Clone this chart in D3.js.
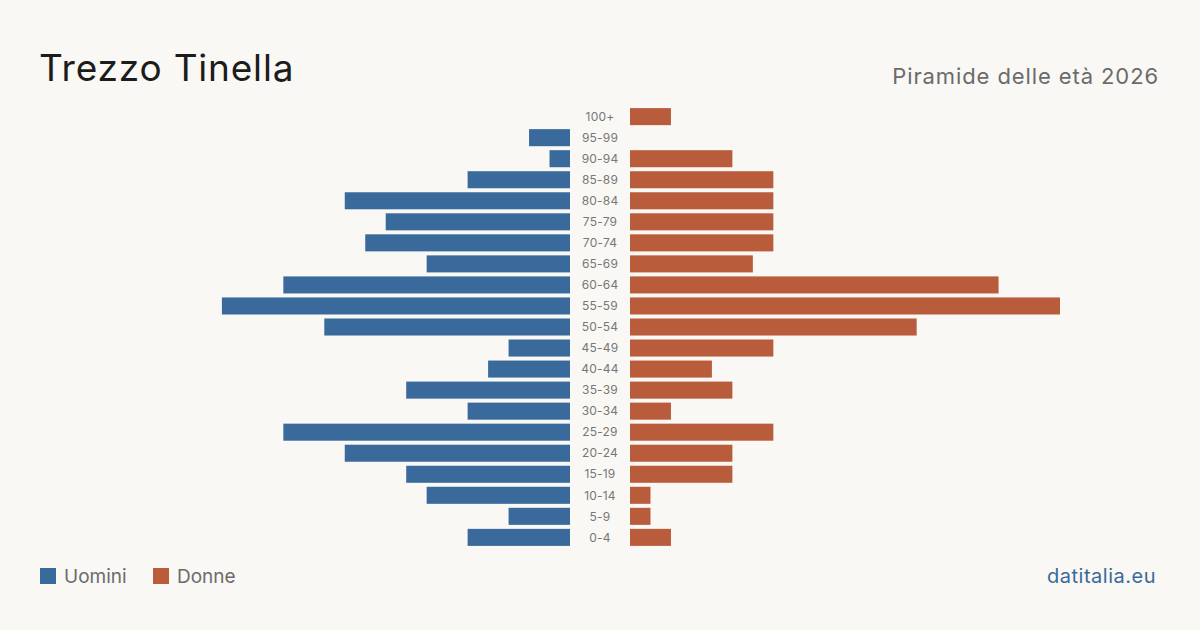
<!DOCTYPE html>
<html><head><meta charset="utf-8">
<script src="https://cdn.jsdelivr.net/npm/d3@7"></script>
<style>
html,body{margin:0;padding:0;background:#f9f8f4;}
svg{display:block;font-family:Inter,"Noto Sans",sans-serif;}
</style></head>
<body>
<svg id="c" width="1200" height="630"></svg>
<script>
const ageGroups = ["100+","95-99","90-94","85-89","80-84","75-79","70-74","65-69","60-64","55-59","50-54","45-49","40-44","35-39","30-34","25-29","20-24","15-19","10-14","5-9","0-4"];
const men   = [0,2,1,5,11,9,10,7,14,17,12,3,4,8,5,14,11,8,7,3,5];
const women = [2,0,5,7,7,7,7,6,18,21,14,7,4,5,2,7,5,5,1,1,2];
const seriesNames = ["Uomini","Donne"];
const colors = ["#3a6a9b","#b95c3c"];

const svg = d3.select("#c");
svg.append("rect").attr("width",1200).attr("height",630).attr("fill","#f9f8f4");

const maxV = d3.max(men.concat(women));
const y = d3.scaleBand().domain(ageGroups).range([106,548]).paddingInner(0.19).paddingOuter(0.1);
const xR = d3.scaleLinear().domain([0,maxV]).range([630,1060]);
const xL = d3.scaleLinear().domain([0,maxV]).range([570,140]);

svg.append("g").selectAll("rect").data(ageGroups).join("rect")
  .attr("x",(d,i)=>xL(men[i])).attr("y",d=>y(d))
  .attr("width",(d,i)=>xL(0)-xL(men[i])).attr("height",y.bandwidth())
  .attr("fill",colors[0]);
svg.append("g").selectAll("rect").data(ageGroups).join("rect")
  .attr("x",xR(0)).attr("y",d=>y(d))
  .attr("width",(d,i)=>xR(women[i])-xR(0)).attr("height",y.bandwidth())
  .attr("fill",colors[1]);

svg.append("g").selectAll("text").data(ageGroups).join("text")
  .attr("x",600).attr("y",d=>y(d)+y.bandwidth()/2)
  .attr("dy","0.35em").attr("text-anchor","middle")
  .attr("font-size",12).attr("letter-spacing","0.2").attr("fill","#777").text(d=>d);

svg.append("text").attr("x",39).attr("y",81).attr("font-size",37)
  .attr("fill","#1c1c1c").attr("letter-spacing","0.8").text("Trezzo Tinella");
svg.append("text").attr("x",1159).attr("y",84).attr("text-anchor","end")
  .attr("font-size",22).attr("letter-spacing","0.9").attr("fill","#6b6b6b").text("Piramide delle età 2026");

const leg = svg.append("g");
const lx = [40,153];
seriesNames.forEach((n,i)=>{
  leg.append("rect").attr("x",lx[i]).attr("y",568).attr("width",16).attr("height",16).attr("fill",colors[i]);
  leg.append("text").attr("x",lx[i]+24).attr("y",583).attr("font-size",19).attr("fill","#6b6b6b").text(n);
});
svg.append("text").attr("x",1156).attr("y",583).attr("text-anchor","end")
  .attr("font-size",20).attr("letter-spacing","0.5").attr("fill","#3a6a9b").text("datitalia.eu");
</script>
</body></html>
